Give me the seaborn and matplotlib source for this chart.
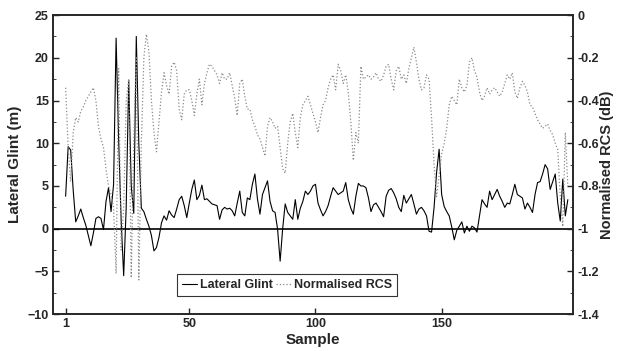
import numpy as np
import pandas as pd
import seaborn as sns
import matplotlib.pyplot as plt
from matplotlib.ticker import MultipleLocator

# lateral glint (m), samples 1..200
glint = [3.8, 9.6, 9.2, 4.5, 0.8, 1.5, 2.3, 1.3, 0.4, -0.8,
         -2.0, -0.5, 1.2, 1.4, 1.2, -0.1, 3.2, 4.8, 2.0, 5.2,
         22.3, 10.5, 1.0, -5.5, 2.5, 17.4, 5.0, 1.8, 22.5, 10.0,
         2.4, 2.0, 1.1, 0.3, -0.8, -2.6, -2.2, -1.0, 0.7, 1.5,
         1.0, 2.1, 1.6, 1.3, 2.3, 3.4, 3.8, 2.7, 1.3, 3.0,
         4.6, 5.7, 3.4, 3.9, 5.1, 3.4, 3.5, 3.2, 2.9, 2.8,
         2.7, 1.1, 2.2, 2.5, 2.3, 2.4, 2.1, 1.5, 3.0, 4.4,
         1.9, 1.5, 3.6, 3.4, 5.2, 6.4, 3.5, 1.7, 4.0, 4.8,
         5.6, 3.2, 2.1, 1.9, -0.1, -3.8, 0.0, 2.9, 1.9, 1.5,
         1.1, 3.4, 1.1, 2.4, 3.2, 4.4, 4.0, 4.4, 5.0, 5.2,
         3.0, 2.2, 1.5, 2.0, 2.7, 3.8, 4.8, 4.4, 4.0, 4.2,
         4.4, 5.4, 3.4, 2.4, 1.7, 3.8, 5.3, 5.0, 5.0, 4.8,
         3.6, 2.0, 2.8, 3.0, 2.5, 2.0, 1.4, 3.8, 4.5, 4.7,
         4.2, 3.5, 2.5, 2.0, 3.9, 3.0, 3.5, 4.0, 2.9, 1.7,
         2.3, 2.5, 2.1, 1.5, -0.3, -0.4, 2.5, 6.6, 9.3, 4.0,
         2.6, 2.0, 1.5, 0.2, -1.3, -0.2, 0.3, 0.8, -0.5, 0.3,
         -0.3, 0.3, 0.1, -0.4, 1.5, 3.4, 2.9, 2.5, 4.4, 3.4,
         4.0, 4.6, 3.8, 3.2, 2.5, 3.0, 2.9, 4.0, 5.2, 4.0,
         3.8, 3.6, 2.3, 3.0, 2.5, 1.9, 4.0, 5.4, 5.5, 6.4,
         7.5, 7.0, 4.6, 5.5, 6.4, 3.0, 0.9, 5.8, 1.5, 3.4]

# normalised RCS (dB)
rcs = [-0.34, -0.62, -0.78, -0.55, -0.48, -0.50, -0.45, -0.43, -0.40, -0.38,
       -0.36, -0.34, -0.40, -0.52, -0.58, -0.62, -0.72, -0.80, -0.84, -0.90,
       -1.21, -0.25, -1.10, -0.90, -0.40, -0.30, -1.23, -0.57, -0.20, -1.24,
       -0.60, -0.20, -0.09, -0.17, -0.40, -0.55, -0.64, -0.50, -0.36, -0.27,
       -0.33, -0.37, -0.24, -0.22, -0.26, -0.44, -0.49, -0.37, -0.35, -0.35,
       -0.40, -0.47, -0.37, -0.30, -0.42, -0.32, -0.27, -0.23, -0.24, -0.26,
       -0.28, -0.32, -0.27, -0.30, -0.30, -0.27, -0.33, -0.39, -0.47, -0.32,
       -0.30, -0.38, -0.44, -0.44, -0.49, -0.52, -0.56, -0.58, -0.62, -0.66,
       -0.52, -0.48, -0.50, -0.53, -0.52, -0.62, -0.72, -0.74, -0.60, -0.50,
       -0.46, -0.55, -0.62, -0.48, -0.42, -0.40, -0.38, -0.42, -0.46, -0.50,
       -0.55, -0.48, -0.42, -0.40, -0.34, -0.30, -0.28, -0.35, -0.23, -0.26,
       -0.32, -0.28, -0.36, -0.50, -0.68, -0.55, -0.60, -0.24, -0.30, -0.29,
       -0.28, -0.30, -0.29, -0.27, -0.30, -0.31, -0.28, -0.24, -0.23, -0.30,
       -0.35, -0.26, -0.24, -0.30, -0.28, -0.32, -0.25, -0.20, -0.15, -0.22,
       -0.30, -0.35, -0.34, -0.28, -0.30, -0.48, -0.70, -0.85, -0.75, -0.65,
       -0.60, -0.53, -0.42, -0.38, -0.40, -0.42, -0.30, -0.34, -0.36, -0.33,
       -0.22, -0.20, -0.26, -0.29, -0.36, -0.40, -0.38, -0.34, -0.37, -0.35,
       -0.34, -0.36, -0.38, -0.36, -0.32, -0.28, -0.30, -0.27, -0.36, -0.39,
       -0.34, -0.31, -0.33, -0.36, -0.42, -0.43, -0.46, -0.49, -0.51, -0.53,
       -0.52, -0.51, -0.54, -0.56, -0.60, -0.63, -0.85, -0.99, -0.55, -0.80]

sample = np.arange(1, len(glint) + 1)
x_ticks = [1, 50, 100, 150]

df = pd.DataFrame({"Sample": sample, "Glint": glint, "RCS": rcs})

sns.set_style("ticks")
plt.rcParams["font.family"] = ["Liberation Sans", "DejaVu Sans"]
plt.rcParams["font.weight"] = "bold"

fig = plt.figure(figsize=(6.2, 3.51), dpi=100)
ax = fig.add_axes([0.0855, 0.105, 0.8385, 0.852])
ax2 = ax.twinx()

sns.lineplot(data=df, x="Sample", y="Glint", ax=ax, color="black", lw=0.8, label="Lateral Glint", legend=False)
sns.lineplot(data=df, x="Sample", y="RCS", ax=ax2, color="#8a8a8a", lw=0.9, ls=":", label="Normalised RCS", legend=False)
ax.axhline(0, color="black", lw=1.2)

ax.set_xlim(-4, 202)
ax.set_ylim(-10, 25)
ax2.set_ylim(-1.4, 0)
ax.set_xticks(x_ticks)
ax.yaxis.set_major_locator(MultipleLocator(5))
ax.yaxis.set_minor_locator(MultipleLocator(2.5))
ax2.yaxis.set_major_locator(MultipleLocator(0.2))
ax2.yaxis.set_minor_locator(MultipleLocator(0.1))
ax2.set_yticklabels(["%g" % v for v in ax2.get_yticks()])

for a in (ax, ax2):
    a.tick_params(direction="in", labelsize=9, length=4, width=1, pad=3)
    a.tick_params(which="minor", direction="in", length=2.5)
    for s in a.spines.values():
        s.set_linewidth(1.2)
        s.set_visible(True)

ax.set_xlabel("Sample", fontsize=11, fontweight="bold", labelpad=2)
ax.set_ylabel("Lateral Glint (m)", fontsize=11, fontweight="bold", labelpad=4)
ax2.set_ylabel("Normalised RCS (dB)", fontsize=10.5, fontweight="bold", labelpad=1)

h1, l1 = ax.get_legend_handles_labels()
h2, l2 = ax2.get_legend_handles_labels()
leg = ax2.legend(h1 + h2, l1 + l2, ncol=2, loc="lower center", bbox_to_anchor=(0.45, 0.04),
                 frameon=True, fancybox=False, edgecolor="black", fontsize=9,
                 handlelength=1.2, handletextpad=0.2, columnspacing=0.3, borderpad=0.4)
leg.get_frame().set_linewidth(0.8)

fig.savefig("out.png", dpi=100)
